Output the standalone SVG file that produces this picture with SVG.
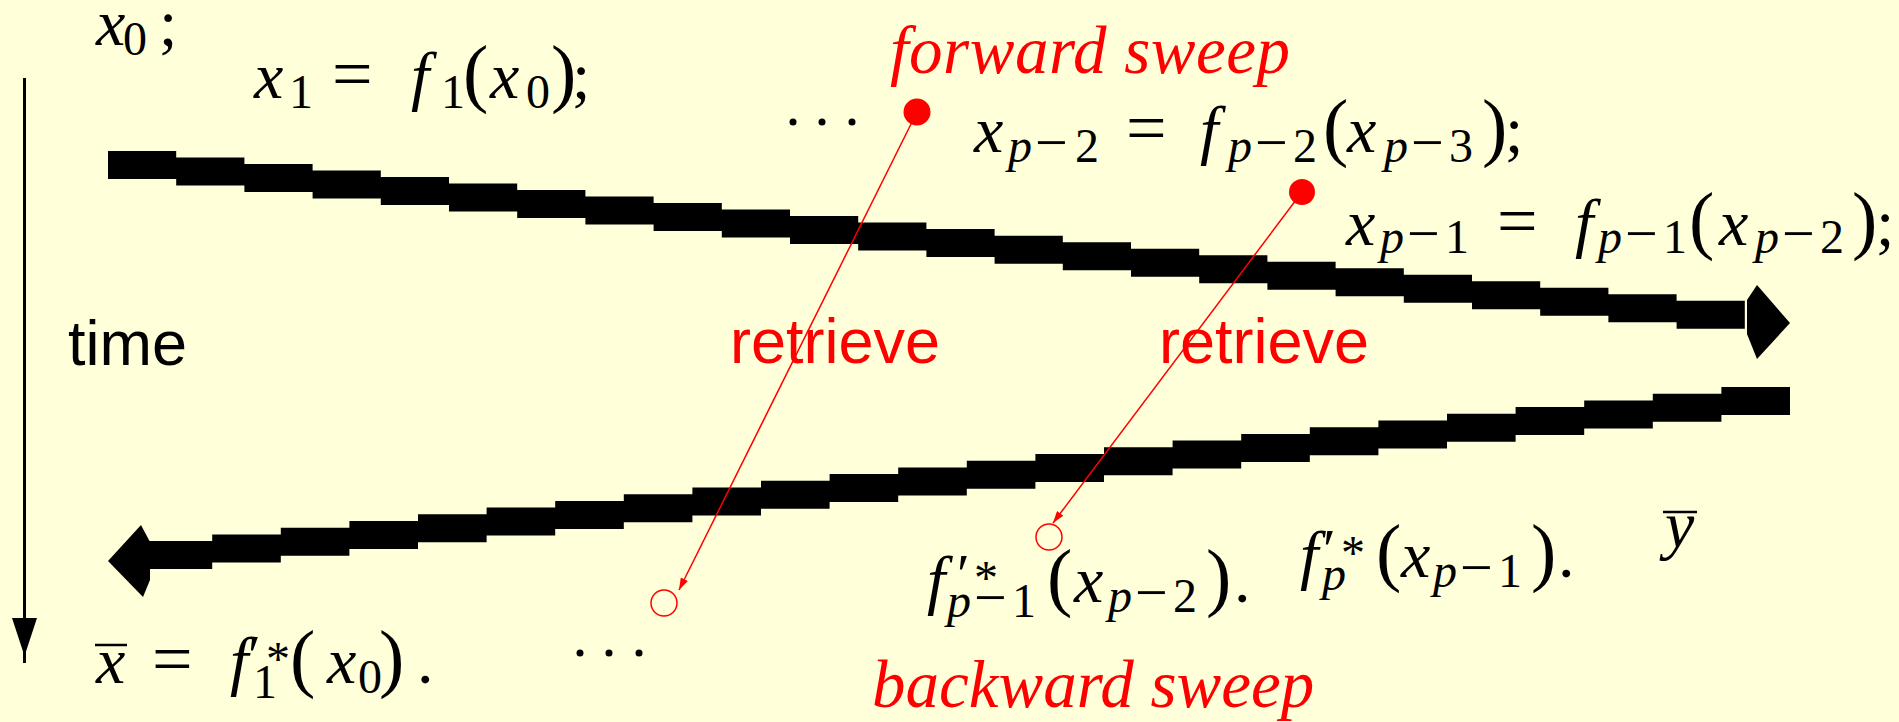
<svg xmlns="http://www.w3.org/2000/svg" width="1899" height="722" viewBox="0 0 1899 722">
<defs>
<style>
.m{font-family:"Liberation Serif",serif;font-size:66px;fill:#000}
.i{font-style:italic}
.s{font-size:48px}
.mi{font-size:58px}
.eq{font-size:72px}
.pa{font-size:76px}
.pr{font-size:58px}
.st{font-size:48px}
.sw{font-family:"Liberation Serif",serif;font-style:italic;font-size:67px;fill:#ff0000}
.sans{font-family:"Liberation Sans",sans-serif;font-size:63px}
.red{fill:#ff0000}
.rl{stroke:#ff0000;stroke-width:1.5;fill:none}
.bar{stroke:#000;stroke-width:2.5}
</style>
<marker id="ra" viewBox="0 0 12 8" refX="12" refY="4" markerWidth="12" markerHeight="8" markerUnits="userSpaceOnUse" orient="auto">
<path d="M0,0 L12,4 L0,8 z" fill="#ff0000"/>
</marker>
</defs>
<rect width="1899" height="722" fill="#ffffda"/>

<g id="time-axis">
<line x1="24.5" y1="78" x2="24.5" y2="663" stroke="#000" stroke-width="3"/>
<polygon points="12,618 37,618 24.5,656" fill="#000"/>
<text class="sans" x="68" y="365">time</text>
</g>

<g id="connectors">
<path id="forward-band" fill="#000" d="M108,151 h68.2 v6.51 h68.2 v6.51 h68.2 v6.51 h68.2 v6.51 h68.2 v6.51 h68.2 v6.51 h68.2 v6.51 h68.2 v6.51 h68.2 v6.51 h68.2 v6.51 h68.2 v6.51 h68.2 v6.51 h68.2 v6.51 h68.2 v6.51 h68.2 v6.51 h68.2 v6.51 h68.2 v6.51 h68.2 v6.51 h68.2 v6.51 h68.2 v6.51 h68.2 v6.51 h68.2 v6.51 h68.2 v6.51 h68.2 v28 h-68.2 v-6.51 h-68.2 v-6.51 h-68.2 v-6.51 h-68.2 v-6.51 h-68.2 v-6.51 h-68.2 v-6.51 h-68.2 v-6.51 h-68.2 v-6.51 h-68.2 v-6.51 h-68.2 v-6.51 h-68.2 v-6.51 h-68.2 v-6.51 h-68.2 v-6.51 h-68.2 v-6.51 h-68.2 v-6.51 h-68.2 v-6.51 h-68.2 v-6.51 h-68.2 v-6.51 h-68.2 v-6.51 h-68.2 v-6.51 h-68.2 v-6.51 h-68.2 v-6.51 h-68.2 v-6.51 h-68.2 z"/>
<polygon id="forward-head" points="1790,323 1757,285 1747,300 1747,334 1757,359" fill="#000"/>
<path id="backward-band" fill="#000" d="M1790,387 h-68.6 v6.7 h-68.6 v6.7 h-68.6 v6.7 h-68.6 v6.7 h-68.6 v6.7 h-68.6 v6.7 h-68.6 v6.7 h-68.6 v6.7 h-68.6 v6.7 h-68.6 v6.7 h-68.6 v6.7 h-68.6 v6.7 h-68.6 v6.7 h-68.6 v6.7 h-68.6 v6.7 h-68.6 v6.7 h-68.6 v6.7 h-68.6 v6.7 h-68.6 v6.7 h-68.6 v6.7 h-68.6 v6.7 h-68.6 v6.7 h-68.6 v6.7 h-68.6 v28 h68.6 v-6.7 h68.6 v-6.7 h68.6 v-6.7 h68.6 v-6.7 h68.6 v-6.7 h68.6 v-6.7 h68.6 v-6.7 h68.6 v-6.7 h68.6 v-6.7 h68.6 v-6.7 h68.6 v-6.7 h68.6 v-6.7 h68.6 v-6.7 h68.6 v-6.7 h68.6 v-6.7 h68.6 v-6.7 h68.6 v-6.7 h68.6 v-6.7 h68.6 v-6.7 h68.6 v-6.7 h68.6 v-6.7 h68.6 v-6.7 h68.6 v-6.7 h68.6 z"/>
<polygon id="backward-head" points="108,561 141,525 150,542 150,580 143,597" fill="#000"/>
<line class="rl" x1="917" y1="112" x2="679" y2="590" marker-end="url(#ra)"/>
<line class="rl" x1="1302" y1="192" x2="1053" y2="523" marker-end="url(#ra)"/>
</g>

<g id="x0">
<text class="m"><tspan class="i" x="96" y="45">x</tspan><tspan class="s" x="123" y="55">0</tspan><tspan x="159" y="45">;</tspan></text>
</g>

<g id="x1">
<text class="m"><tspan class="i" x="254" y="98">x</tspan><tspan class="s" x="289" y="108">1</tspan><tspan class="eq" x="332" y="98">=</tspan><tspan class="i" x="411" y="98">f</tspan><tspan class="s" x="441" y="108">1</tspan><tspan class="pa" x="463" y="98">(</tspan><tspan class="i" x="490" y="98">x</tspan><tspan class="s" x="526" y="108">0</tspan><tspan class="pa" x="551" y="98">)</tspan><tspan x="572" y="98">;</tspan></text>
</g>

<g id="dots-top">
<circle cx="793" cy="122" r="3.5"/><circle cx="822" cy="122" r="3.5"/><circle cx="852" cy="122" r="3.5"/>
</g>

<g id="forward-sweep">
<text class="sw" x="890" y="73" textLength="400" lengthAdjust="spacing">forward sweep</text>
<circle cx="917" cy="112" r="13.5" fill="#ff0000"/>
</g>

<g id="xp2">
<text class="m"><tspan class="i" x="974" y="152">x</tspan><tspan class="s i" x="1008" y="162">p</tspan><tspan class="mi" x="1035" y="162">−</tspan><tspan class="s" x="1075" y="162">2</tspan><tspan class="eq" x="1126" y="152">=</tspan><tspan class="i" x="1200" y="152">f</tspan><tspan class="s i" x="1228" y="162">p</tspan><tspan class="mi" x="1255" y="162">−</tspan><tspan class="s" x="1293" y="162">2</tspan><tspan class="pa" x="1323" y="152">(</tspan><tspan class="i" x="1347" y="152">x</tspan><tspan class="s i" x="1384" y="162">p</tspan><tspan class="mi" x="1411" y="162">−</tspan><tspan class="s" x="1449" y="162">3</tspan><tspan class="pa" x="1482" y="152">)</tspan><tspan x="1505" y="152">;</tspan></text>
<circle cx="1302" cy="192" r="13" fill="#ff0000"/>
</g>

<g id="xp1">
<text class="m"><tspan class="i" x="1346" y="245">x</tspan><tspan class="s i" x="1380" y="253">p</tspan><tspan class="mi" x="1407" y="253">−</tspan><tspan class="s" x="1445" y="253">1</tspan><tspan class="eq" x="1497" y="245">=</tspan><tspan class="i" x="1575" y="245">f</tspan><tspan class="s i" x="1598" y="253">p</tspan><tspan class="mi" x="1625" y="253">−</tspan><tspan class="s" x="1663" y="253">1</tspan><tspan class="pa" x="1689" y="245">(</tspan><tspan class="i" x="1719" y="245">x</tspan><tspan class="s i" x="1755" y="253">p</tspan><tspan class="mi" x="1782" y="253">−</tspan><tspan class="s" x="1820" y="253">2</tspan><tspan class="pa" x="1852" y="245">)</tspan><tspan x="1876" y="245">;</tspan></text>
</g>

<g id="retrieve-1"><text class="sans red" x="730" y="363">retrieve</text></g>
<g id="retrieve-2"><text class="sans red" x="1159" y="363">retrieve</text></g>

<g id="adj-p1">
<circle cx="1049" cy="537" r="13" class="rl"/>
<text class="m"><tspan class="i" x="927" y="602">f</tspan><tspan class="pr" x="957" y="594">′</tspan><tspan class="st" x="974" y="594">*</tspan><tspan class="s i" x="947" y="617">p</tspan><tspan class="mi" x="974" y="617">−</tspan><tspan class="s" x="1012" y="617">1</tspan><tspan class="pa" x="1047" y="602">(</tspan><tspan class="i" x="1074" y="602">x</tspan><tspan class="s i" x="1108" y="612">p</tspan><tspan class="mi" x="1135" y="612">−</tspan><tspan class="s" x="1173" y="612">2</tspan><tspan class="pa" x="1206" y="602">)</tspan><tspan x="1234" y="602">.</tspan></text>
</g>

<g id="adj-p">
<text class="m"><tspan class="i" x="1300" y="577">f</tspan><tspan class="pr" x="1323" y="569">′</tspan><tspan class="st" x="1341" y="569">*</tspan><tspan class="s i" x="1322" y="590">p</tspan><tspan class="pa" x="1376" y="577">(</tspan><tspan class="i" x="1401" y="577">x</tspan><tspan class="s i" x="1433" y="587">p</tspan><tspan class="mi" x="1460" y="587">−</tspan><tspan class="s" x="1498" y="587">1</tspan><tspan class="pa" x="1531" y="577">)</tspan><tspan x="1558" y="577">.</tspan></text>
</g>

<g id="ybar">
<text class="m i" x="1665" y="547">y</text>
<line class="bar" x1="1663" y1="512" x2="1697" y2="512"/>
</g>

<g id="xbar">
<text class="m"><tspan class="i" x="96" y="683">x</tspan><tspan class="eq" x="152" y="683">=</tspan><tspan class="i" x="230" y="683">f</tspan><tspan class="pr" x="248" y="675">′</tspan><tspan class="st" x="266" y="675">*</tspan><tspan class="s" x="253" y="698">1</tspan><tspan class="pa" x="290" y="683">(</tspan><tspan class="i" x="327" y="683">x</tspan><tspan class="s" x="358" y="693">0</tspan><tspan class="pa" x="379" y="683">)</tspan><tspan x="417" y="683">.</tspan></text>
<line class="bar" x1="95" y1="645" x2="127" y2="645"/>
</g>

<g id="dots-bottom">
<circle cx="580" cy="653" r="3.5"/><circle cx="609" cy="653" r="3.5"/><circle cx="639" cy="653" r="3.5"/>
<circle cx="664" cy="603" r="13" class="rl"/>
</g>

<g id="backward-sweep">
<text class="sw" x="872" y="707">backward sweep</text>
</g>
</svg>
